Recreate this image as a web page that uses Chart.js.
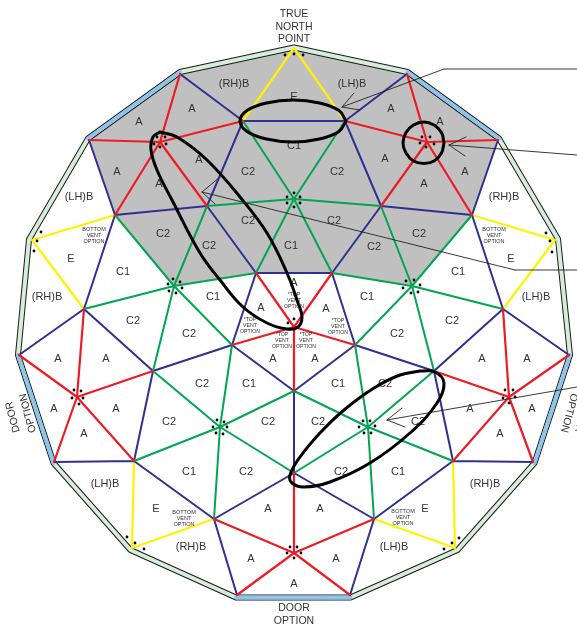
<!DOCTYPE html>
<html>
<head>
<meta charset="utf-8">
<style>
    html, body { margin: 0; padding: 0; background: #fff; overflow: hidden; }
    canvas { display: block; }
</style>
<script src="https://cdn.jsdelivr.net/npm/chart.js@4/dist/chart.umd.js"></script>
</head>
<body>
<canvas id="dome" width="577" height="625"></canvas>
<script>
// rim hubs, clockwise from the north point
const rimN = [294, 48], rimNE1 = [407, 74], rimNE2 = [498, 140], rimE1 = [555, 240], rimE2 = [569, 355]
const rimE3 = [533, 462], rimSE = [455, 548], rimS2 = [350, 595], rimS1 = [237, 595], rimSW = [132, 548]
const rimW3 = [54, 462], rimW2 = [19, 355], rimW1 = [32, 240], rimNW2 = [89, 140], rimNW1 = [180, 74]

// inner hubs
const n1 = [243, 121], n2 = [345, 121]
const redNW = [160, 142], redNE = [427, 142], greenN = [294, 199]
const a1 = [115, 215], a2 = [207, 206], a3 = [381, 206], a4 = [472, 215]
const b1 = [256, 273], b2 = [332, 273]
const greenW = [174, 286], greenE = [412, 286]
const c1 = [84, 309], c2 = [503, 309]
const redVent = [294, 327]
const d1 = [232, 345], d2 = [355, 345]
const e1 = [153, 371], e2 = [294, 391], e3 = [434, 371]
const redW = [77, 397], redE = [509, 397]
const greenSW = [220, 427], greenSE = [368, 427]
const f1 = [134, 461], f2 = [294, 473], f3 = [453, 461]
const g1 = [214, 519], g2 = [374, 519]
const redS = [294, 553]

const yellowEdges = [
    [rimN, n1], [rimN, n2], [rimW1, a1], [rimW1, c1], [rimE1, a4], [rimE1, c2],
    [rimSW, f1], [rimSW, g1], [rimSE, f3], [rimSE, g2]
]
const blueEdges = [
    [rimNW1, n1], [rimNE1, n2], [n1, n2], [n1, a2], [n2, a3], [rimNW2, a1], [rimNE2, a4],
    [a1, a2], [a3, a4], [a2, b1], [a3, b2], [b1, b2], [a1, c1], [a4, c2], [b1, d1], [b2, d2],
    [c1, rimW2], [c1, e1], [c2, rimE2], [c2, e3], [d1, e1], [d2, e3], [d1, e2], [d2, e2],
    [e2, f2], [e1, f1], [e3, f3], [f1, rimW3], [f3, rimE3], [f1, g1], [f3, g2],
    [f2, g1], [f2, g2], [g1, rimS1], [g2, rimS2]
]
const redEdges = [
    [redNW, rimNW1], [redNW, rimNW2], [redNW, n1], [redNW, a1], [redNW, a2],
    [redNE, rimNE1], [redNE, rimNE2], [redNE, n2], [redNE, a3], [redNE, a4],
    [redVent, b1], [redVent, b2], [redVent, d1], [redVent, d2], [redVent, e2],
    [redW, rimW2], [redW, rimW3], [redW, c1], [redW, e1], [redW, f1],
    [redE, rimE2], [redE, rimE3], [redE, c2], [redE, e3], [redE, f3],
    [redS, rimS1], [redS, rimS2], [redS, g1], [redS, g2], [redS, f2]
]
const greenEdges = [
    [greenN, n1], [greenN, n2], [greenN, a2], [greenN, a3], [greenN, b1], [greenN, b2],
    [greenW, a1], [greenW, a2], [greenW, b1], [greenW, c1], [greenW, e1], [greenW, d1],
    [greenE, a4], [greenE, a3], [greenE, b2], [greenE, c2], [greenE, e3], [greenE, d2],
    [greenSW, e1], [greenSW, d1], [greenSW, e2], [greenSW, f2], [greenSW, g1], [greenSW, f1],
    [greenSE, e3], [greenSE, d2], [greenSE, e2], [greenSE, f2], [greenSE, g2], [greenSE, f3]
]

// shaded cap: upper and lower outline, both running left to right
const shadeTop = [rimNW2, rimNW1, rimN, rimNE1, rimNE2]
const shadeBottom = [rimNW2, a1, greenW, b1, b2, greenE, a4, rimNE2]

// outer wall
const wallPoints = [
    [294, 47.5], [407.5, 72], [499, 138.5], [558, 239], [570, 355], [534.5, 463], [457.5, 550], [350.5, 597.5],
    [236, 597.5], [130.5, 550], [53.5, 463], [18, 355], [29, 239.5], [88, 138.5], [180, 72], [294, 47.5]
]
const doorWalls = [
    [[180, 72], [88, 138.5]], [[407.5, 72], [499, 138.5]], [[18, 355], [53.5, 463]],
    [[570, 355], [534.5, 463]], [[236, 597.5], [350.5, 597.5]]
]

// black loops
const loopTop = [[346, 121], [339, 131.5], [319.5, 139], [293, 142], [266.5, 139], [247, 131.5], [240, 121], [247, 110.5], [266.5, 103], [293, 100], [319.5, 103], [339, 110.5], [346, 121]]
const loopHub = [[444, 143], [441.5, 153], [434, 161], [424, 163.5], [413.5, 161], [406, 153], [403, 143], [406, 132.5], [413.5, 125], [424, 122], [434, 125], [441.5, 132.5], [444, 143]]
const loopLong = [[160, 132], [177, 137], [207, 160], [240, 197], [267, 233], [287, 273], [298, 303], [302, 317], [298, 327], [287, 329], [267, 323], [243, 307], [220, 280], [200, 253], [172, 200], [157, 170], [151, 150], [153, 137], [160, 132]]
const loopLower = [[420, 371], [435, 372], [444, 383], [437, 403], [410, 433], [370, 463], [330, 482], [304, 487], [292, 483], [290, 475], [300, 457], [320, 433], [344, 410], [374, 388], [400, 375], [420, 371]]

// leader lines, arrow heads
const leaders = [
    [[577, 69], [444, 69], [342, 107]], [[354, 93], [342, 107], [360, 110]],
    [[577, 155], [449, 145]], [[466, 137], [449, 145], [465, 156]],
    [[577, 270], [515, 270], [202, 192]], [[220, 177], [202, 192], [215, 204]],
    [[577, 387], [387, 420]], [[402, 408], [387, 420], [405, 427]]
]

// fixing dots round the hubs
const hubDots = [
    [157, 137], [165, 137], [154, 144], [166, 144], [160, 147],
    [422, 137], [430, 137], [420, 143], [434, 144], [426, 147],
    [294, 193], [300, 197], [287, 197], [300, 203], [287, 203], [294, 207],
    [173, 279], [180, 282], [168, 284], [182, 288], [169, 291], [176, 293],
    [406, 281], [414, 280], [403, 288], [420, 285], [411, 293], [418, 292],
    [288, 323], [294, 319],
    [74, 390], [81, 391], [72, 398], [83, 398], [79, 404],
    [505, 390], [513, 390], [503, 398], [515, 397], [509, 403],
    [217, 420], [224, 422], [213, 427], [227, 427], [216, 433], [223, 434],
    [363, 421], [370, 421], [359, 427], [375, 426], [364, 433], [371, 433],
    [290, 547], [297, 547], [287, 553], [301, 553], [294, 558],
    [285, 55], [294, 54], [303, 55],
    [41, 232], [37, 241], [34, 251],
    [546, 233], [550, 241], [552, 252],
    [127, 537], [135, 543], [144, 549],
    [459, 538], [452, 543], [444, 549]
]

// panel letters
const panelLabels = [
    ['(RH)B', 234, 84], ['(LH)B', 352, 84], ['E', 294, 97], ['C1', 294, 146],
    ['A', 192, 109], ['A', 139, 122], ['A', 117, 172], ['A', 159, 184], ['A', 199, 160],
    ['C2', 248, 172], ['C2', 163, 234], ['C2', 209, 246], ['C2', 248, 221], ['C1', 291, 246],
    ['C2', 334, 221], ['C2', 337, 172], ['C2', 374, 247], ['C2', 419, 234],
    ['A', 391, 109], ['A', 440, 122], ['A', 385, 159], ['A', 424, 184], ['A', 465, 172],
    ['(LH)B', 79, 197], ['(RH)B', 504, 197], ['E', 71, 259], ['E', 511, 259],
    ['C1', 123, 272], ['C1', 458, 272], ['(RH)B', 47, 297], ['(LH)B', 536, 297],
    ['C1', 213, 297], ['C1', 367, 297], ['C2', 133, 321], ['C2', 452, 321],
    ['C2', 189, 334], ['C2', 397, 334], ['A', 294, 283], ['A', 261, 308], ['A', 326, 309],
    ['A', 58, 359], ['A', 106, 359], ['A', 273, 359], ['A', 315, 359], ['A', 482, 359], ['A', 527, 359],
    ['C2', 202, 384], ['C1', 249, 384], ['C1', 338, 384], ['C2', 385, 384],
    ['A', 54, 409], ['A', 116, 409], ['A', 470, 409], ['A', 532, 409],
    ['C2', 169, 422], ['C2', 268, 422], ['C2', 318, 422], ['C2', 418, 422],
    ['A', 84, 434], ['A', 500, 434],
    ['C1', 189, 472], ['C2', 246, 472], ['C2', 341, 472], ['C1', 398, 472],
    ['(LH)B', 105, 484], ['(RH)B', 485, 484],
    ['E', 156, 509], ['A', 268, 509], ['A', 320, 509], ['E', 425, 509],
    ['(RH)B', 191, 547], ['(LH)B', 394, 547], ['A', 251, 559], ['A', 336, 559], ['A', 294, 584]
]
const titleLabels = [
    ['TRUE', 294, 14], ['NORTH', 294, 27], ['POINT', 294, 39],
    ['DOOR', 294, 608], ['OPTION', 294, 621]
]
const sideLabels = [
    ['DOOR', 13, 417, -105], ['OPTION', 28, 413, -105],
    ['DOOR', 582, 417, 105], ['OPTION', 569, 413, 105]
]
const bottomVents = [[94, 229], [494, 229], [184, 512], [403, 511]]
const topVents = [[294, 295], [250, 320], [338, 321], [282, 335], [306, 335]]

function pts(list) {
    return list.map(p => ({ x: p[0], y: p[1] }))
}

// one line per edge, split by gaps
function edges(list) {
    let out = []
    list.forEach(e => {
        out.push(...pts(e))
        out.push({ x: null, y: null })
    })
    return out
}

function line(data, color, width, order, extra) {
    return Object.assign({
        data: data,
        showLine: true,
        borderColor: color,
        borderWidth: width,
        borderCapStyle: 'round',
        borderJoinStyle: 'round',
        pointRadius: 0,
        spanGaps: false,
        tension: 0,
        fill: false,
        order: order
    }, extra || {})
}

// dataset 9 is the leader lines: text goes on top of it, under the black loops
const textPlugin = {
    id: 'textPlugin',
    afterDatasetDraw(chart, args) {
        if (args.index !== 9) return
        const ctx = chart.ctx
        const xs = chart.scales.x, ys = chart.scales.y
        const put = (text, x, y) => ctx.fillText(text, xs.getPixelForValue(x), ys.getPixelForValue(y))
        ctx.save()
        ctx.fillStyle = '#333'
        ctx.textAlign = 'center'
        ctx.textBaseline = 'middle'
        ctx.font = '11px "Liberation Sans"'
        panelLabels.forEach(l => put(l[0], l[1], l[2]))
        ctx.font = '10.5px "Liberation Sans"'
        titleLabels.forEach(l => put(l[0], l[1], l[2]))
        sideLabels.forEach(l => {
            ctx.save()
            ctx.translate(xs.getPixelForValue(l[1]), ys.getPixelForValue(l[2]))
            ctx.rotate(l[3] * Math.PI / 180)
            ctx.fillText(l[0], 0, 0)
            ctx.restore()
        })
        ctx.font = '5.5px "Liberation Sans"'
        bottomVents.forEach(v => {
            put('BOTTOM', v[0], v[1])
            put('VENT', v[0], v[1] + 6)
            put('OPTION', v[0], v[1] + 12)
        })
        ctx.font = '5.2px "Liberation Sans"'
        topVents.forEach(v => {
            put('*TOP', v[0], v[1])
            put('VENT', v[0], v[1] + 6)
            put('OPTION', v[0], v[1] + 12)
        })
        ctx.restore()
    }
}

new Chart(document.getElementById('dome'), {
    type: 'scatter',
    data: {
        datasets: [
            line(pts(shadeTop), 'transparent', 0, 20, { fill: '+1', backgroundColor: '#c0c0c0' }),
            line(pts(shadeBottom), 'transparent', 0, 19),
            line(pts(wallPoints), '#1a1a1a', 6, 18),
            line(pts(wallPoints), '#d6eed9', 4, 17),
            line(edges(doorWalls), '#8cc4ec', 4, 16),
            line(edges(yellowEdges), '#fff200', 2.2, 15),
            line(edges(blueEdges), '#2e3192', 2, 14),
            line(edges(greenEdges), '#00a651', 2, 13),
            line(edges(redEdges), '#ed1c24', 2.2, 12),
            line(edges(leaders.flatMap(l => l.slice(1).map((p, i) => [l[i], p]))), '#222', 0.9, 6),
            line(pts(loopTop), '#000', 3, 5, { tension: 0.4 }),
            line(pts(loopHub), '#000', 3, 5, { tension: 0.4 }),
            line(pts(loopLong), '#000', 3, 5, { tension: 0.4 }),
            line(pts(loopLower), '#000', 3, 5, { tension: 0.4 }),
            {
                data: pts(hubDots),
                showLine: false,
                pointRadius: 1.4,
                pointBorderWidth: 0,
                pointBackgroundColor: '#000',
                order: 1
            }
        ]
    },
    options: {
        responsive: false,
        animation: false,
        devicePixelRatio: 1,
        layout: { autoPadding: false, padding: 0 },
        plugins: { legend: { display: false }, tooltip: { enabled: false }, title: { display: false } },
        scales: {
            x: { type: 'linear', display: false, min: 0, max: 577 },
            y: { type: 'linear', display: false, min: 0, max: 625, reverse: true }
        }
    },
    plugins: [textPlugin]
})
</script>
</body>
</html>
